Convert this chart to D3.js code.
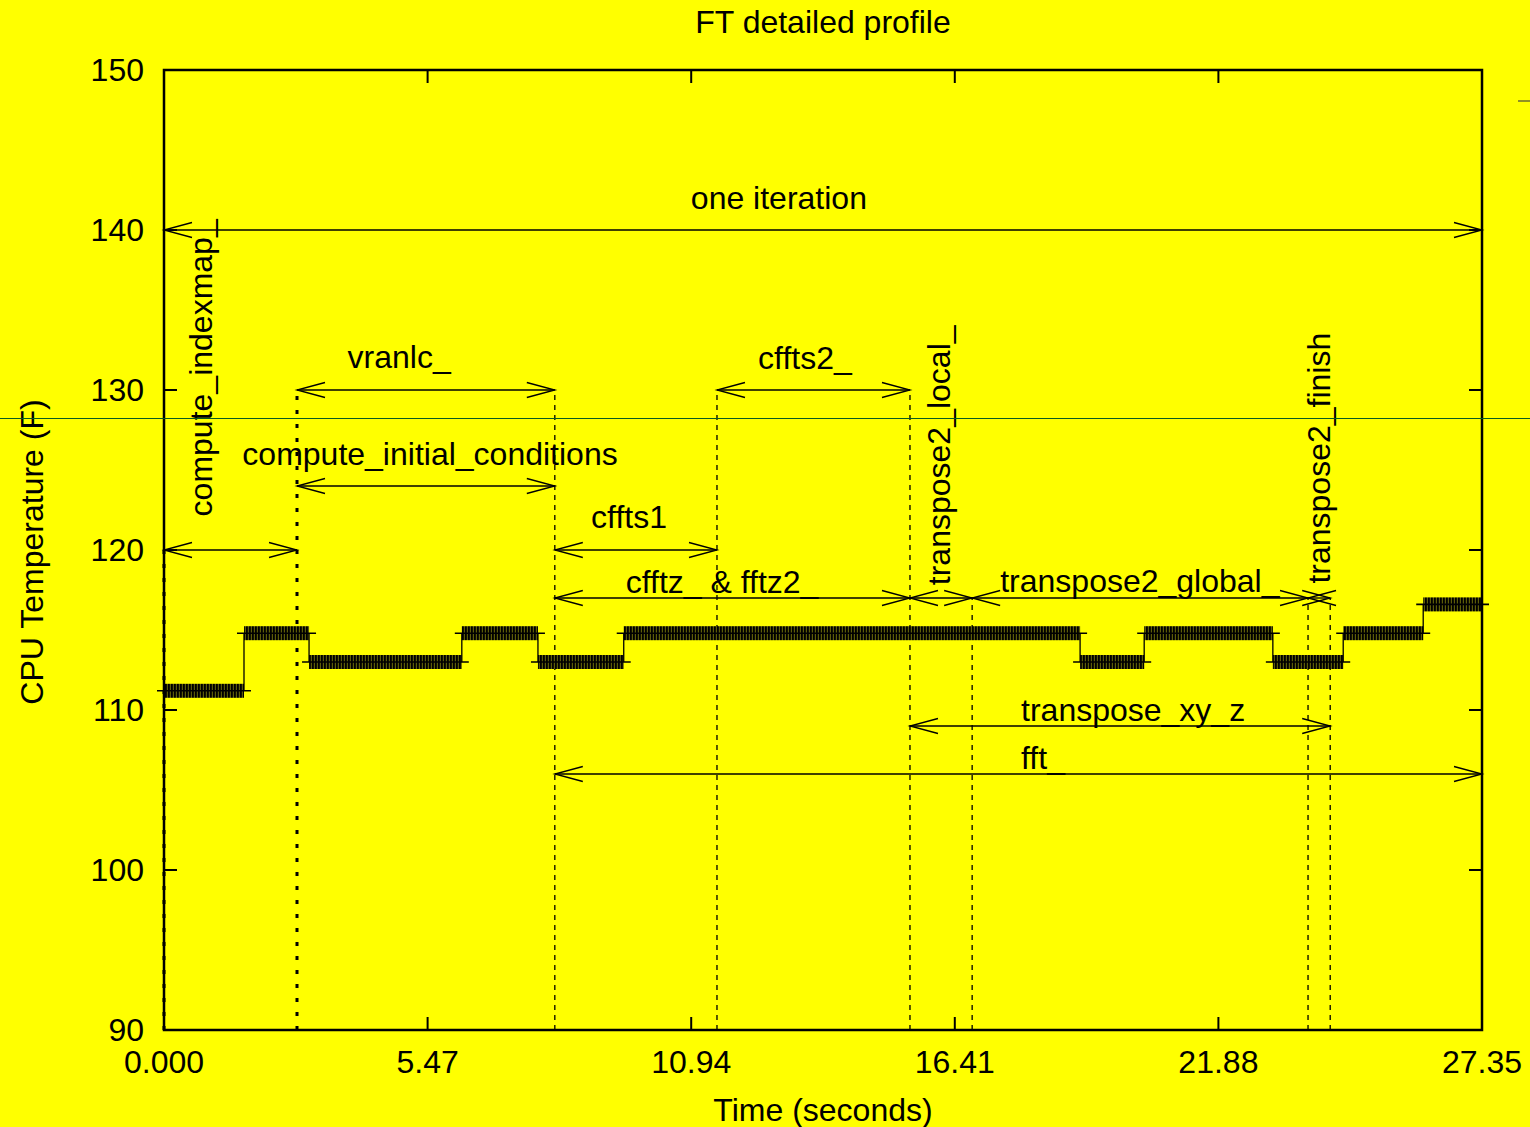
<!DOCTYPE html>
<html>
<head>
<meta charset="utf-8">
<script src="https://cdn.jsdelivr.net/npm/d3@7"></script>
<style>
  html, body { margin: 0; padding: 0; background: #ffff00; }
  svg { display: block; }
  text { font-family: "Liberation Sans", Arial, sans-serif; fill: #000; }
</style>
</head>
<body>
<div id="chart"></div>
<script>
// step profile: segment start/end times (s) and temperature (F)
const stepStart = [0, 1.66, 3.01, 6.18, 7.76, 9.54, 19.01, 20.34, 23.01, 24.47, 26.13];
const stepEnd   = [1.66, 3.01, 6.18, 7.76, 9.54, 19.01, 20.34, 23.01, 24.47, 26.13, 27.35];
const stepTemp  = [111.2, 114.8, 113.0, 114.8, 113.0, 114.8, 113.0, 114.8, 113.0, 114.8, 116.6];

// horizontal span arrows
const spanName   = ["one iteration", "compute_indexmap_", "vranlc_", "compute_initial_conditions",
                    "cffts1", "cffts2_", "cfftz_ & fftz2_", "transpose2_local_",
                    "transpose2_global_", "transpose2_finish", "transpose_xy_z", "fft_"];
const spanT0     = [0, 0, 2.76, 2.76, 8.11, 11.475, 8.11, 15.48, 16.77, 23.74, 15.48, 8.11];
const spanT1     = [27.35, 2.76, 8.11, 8.11, 11.475, 15.48, 15.48, 16.77, 23.74, 24.20, 24.20, 27.35];
const spanY      = [140, 120, 130, 124, 120, 130, 117, 117, 117, 117, 109, 106];
const labelT     = [12.76, 0.76, 4.88, 5.52, 9.65, 13.30, 11.58, 16.07, 20.25, 23.97, 20.11, 18.24];
const labelY     = [142, 122.1, 132.1, 126, 122.1, 132, 118, 117.8, 118.1, 117.9, 110, 107];
const labelRot   = [false, true, false, false, false, false, false, true, false, true, false, false];

// vertical dashed markers
const markT   = [0, 2.76, 8.11, 11.475, 15.48, 16.77, 23.74, 24.20];
const markTop = [120, 130, 130, 130, 130, 117, 117, 117];
const markHeavy = [true, true, false, false, false, false, false, false];

const xTicks = [0, 5.47, 10.94, 16.41, 21.88, 27.35];
const xTickText = ["0.000", "5.47", "10.94", "16.41", "21.88", "27.35"];
const yTicks = [90, 100, 110, 120, 130, 140, 150];

const W = 1530, H = 1127;
const m = { left: 164, right: 48, top: 70, bottom: 97 };
const fs = 32;

const svg = d3.select("#chart").append("svg")
  .attr("width", W).attr("height", H);

svg.append("rect").attr("width", W).attr("height", H).attr("fill", "#ffff00");

const x = d3.scaleLinear().domain([0, 27.35]).range([m.left, W - m.right]);
const y = d3.scaleLinear().domain([90, 150]).range([H - m.bottom, m.top]);

// stripe pattern for the dense sample band
const defs = svg.append("defs");
const pat = defs.append("pattern").attr("id", "stripes")
  .attr("patternUnits", "userSpaceOnUse").attr("width", 3).attr("height", 20);
pat.append("rect").attr("width", 3).attr("height", 20).attr("fill", "#5c5c08");
pat.append("rect").attr("width", 1.8).attr("height", 20).attr("fill", "#000");

// dashed vertical markers
svg.append("g").selectAll("line").data(markT).join("line")
  .attr("x1", d => x(d)).attr("x2", d => x(d))
  .attr("y1", y(90)).attr("y2", (d, i) => y(markTop[i]))
  .attr("stroke", "#000")
  .attr("stroke-width", (d, i) => markHeavy[i] ? 3 : 1.3)
  .attr("stroke-dasharray", (d, i) => markHeavy[i] ? "4,10" : "5,5");

// span arrows
const arrowG = svg.append("g").attr("stroke", "#000").attr("stroke-width", 1.3).attr("fill", "none");
spanName.forEach((name, i) => {
  const x0 = x(spanT0[i]), x1 = x(spanT1[i]), yy = y(spanY[i]);
  arrowG.append("line").attr("x1", x0).attr("x2", x1).attr("y1", yy).attr("y2", yy);
  arrowG.append("path").attr("d", `M${x0 + 28},${yy - 7.5}L${x0},${yy}L${x0 + 28},${yy + 7.5}`);
  arrowG.append("path").attr("d", `M${x1 - 28},${yy - 7.5}L${x1},${yy}L${x1 - 28},${yy + 7.5}`);
});

// span labels
svg.append("g").selectAll("text").data(spanName).join("text")
  .attr("font-size", fs)
  .attr("text-anchor", (d, i) => labelRot[i] ? "start" : "middle")
  .attr("dy", "0.35em")
  .attr("transform", (d, i) => labelRot[i]
    ? `translate(${x(labelT[i])},${y(labelY[i])}) rotate(-90)`
    : `translate(${x(labelT[i])},${y(labelY[i])})`)
  .text(d => d);

// step profile
const stepG = svg.append("g");
stepG.selectAll("rect").data(stepTemp).join("rect")
  .attr("x", (d, i) => x(stepStart[i]))
  .attr("width", (d, i) => x(stepEnd[i]) - x(stepStart[i]))
  .attr("y", d => y(d) - 7).attr("height", 14)
  .attr("fill", "url(#stripes)");
stepG.selectAll("line.mid").data(stepTemp).join("line").attr("class", "mid")
  .attr("x1", (d, i) => x(stepStart[i]) - 7)
  .attr("x2", (d, i) => x(stepEnd[i]) + 7)
  .attr("y1", d => y(d)).attr("y2", d => y(d))
  .attr("stroke", "#000").attr("stroke-width", 1.6);
stepG.selectAll("line.rise").data(stepTemp.slice(1)).join("line").attr("class", "rise")
  .attr("x1", (d, i) => x(stepEnd[i])).attr("x2", (d, i) => x(stepStart[i + 1]))
  .attr("y1", (d, i) => y(stepTemp[i])).attr("y2", d => y(d))
  .attr("stroke", "#000").attr("stroke-width", 1.3);
// initial rise from the axis floor
stepG.append("line")
  .attr("x1", x(0)).attr("x2", x(0))
  .attr("y1", y(90)).attr("y2", y(stepTemp[0]))
  .attr("stroke", "#000").attr("stroke-width", 2);

// axes with mirrored inner ticks
const tick = 13;
const axG = svg.append("g").attr("stroke", "#000").attr("stroke-width", 2);
yTicks.forEach(v => {
  axG.append("line").attr("x1", x(0)).attr("x2", x(0) + tick).attr("y1", y(v)).attr("y2", y(v));
  axG.append("line").attr("x1", x(27.35)).attr("x2", x(27.35) - tick).attr("y1", y(v)).attr("y2", y(v));
});
xTicks.forEach(v => {
  axG.append("line").attr("x1", x(v)).attr("x2", x(v)).attr("y1", y(90)).attr("y2", y(90) - tick);
  axG.append("line").attr("x1", x(v)).attr("x2", x(v)).attr("y1", y(150)).attr("y2", y(150) + tick);
});
svg.append("rect")
  .attr("x", x(0)).attr("y", y(150))
  .attr("width", x(27.35) - x(0)).attr("height", y(90) - y(150))
  .attr("fill", "none").attr("stroke", "#000").attr("stroke-width", 2.5);

svg.append("g").selectAll("text").data(yTicks).join("text")
  .attr("x", x(0) - 20).attr("y", d => y(d)).attr("dy", "0.35em")
  .attr("text-anchor", "end").attr("font-size", fs)
  .text(d => d);
svg.append("g").selectAll("text").data(xTicks).join("text")
  .attr("x", d => x(d)).attr("y", y(90) + 32).attr("dy", "0.35em")
  .attr("text-anchor", "middle").attr("font-size", fs)
  .text((d, i) => xTickText[i]);

// titles
svg.append("text").attr("x", 823).attr("y", 22).attr("dy", "0.35em")
  .attr("text-anchor", "middle").attr("font-size", fs).text("FT detailed profile");
svg.append("text").attr("x", 823).attr("y", 1110).attr("dy", "0.35em")
  .attr("text-anchor", "middle").attr("font-size", fs).text("Time (seconds)");
svg.append("text").attr("transform", "translate(32,552) rotate(-90)").attr("dy", "0.35em")
  .attr("text-anchor", "middle").attr("font-size", fs).text("CPU Temperature (F)");

// stray marks in the original capture
svg.append("line").attr("x1", 0).attr("x2", W).attr("y1", 418.5).attr("y2", 418.5)
  .attr("stroke", "#0a5c1e").attr("stroke-width", 1);
svg.append("line").attr("x1", 1518).attr("x2", 1530).attr("y1", 101).attr("y2", 101)
  .attr("stroke", "#6b6b30").attr("stroke-width", 1.5);
</script>
</body>
</html>
